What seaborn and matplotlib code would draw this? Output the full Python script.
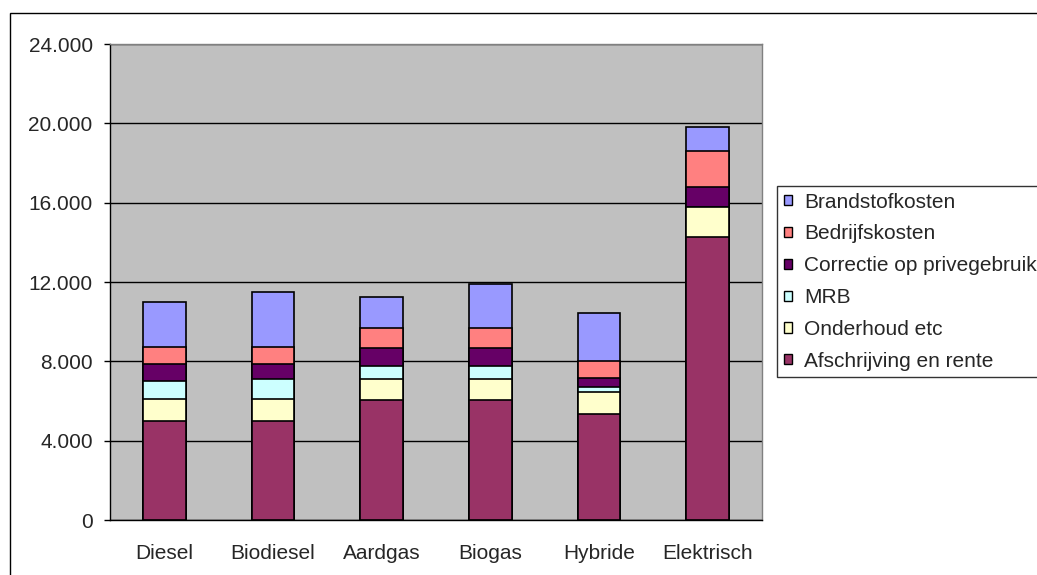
"""Stacked yearly cost per fuel type, Excel-style bar chart."""
import matplotlib
matplotlib.use("Agg")
import matplotlib.pyplot as plt
import numpy as np
import pandas as pd
import seaborn as sns
from matplotlib.patches import Patch, Rectangle
from matplotlib.ticker import FuncFormatter

FUELS = ["Diesel", "Biodiesel", "Aardgas", "Biogas", "Hybride", "Elektrisch"]

# bottom to top
COMPONENTS = ["Afschrijving en rente", "Onderhoud etc", "MRB", "Correctie op privegebruik", "Bedrijfskosten", "Brandstofkosten"]
afschrijving = [5000, 5000, 6030, 6030, 5360, 14270]
onderhoud = [1100, 1100, 1080, 1080, 1070, 1530]
mrb = [930, 1000, 660, 660, 270, 0]
correctie = [830, 760, 890, 890, 480, 1010]
bedrijfskosten = [870, 870, 1010, 1010, 820, 1820]
brandstof = [2280, 2760, 1580, 2240, 2430, 1160]

COLORS = ["#993366", "#FFFFCC", "#CCFFFF", "#660066", "#FF8080", "#9999FF"]
Y_TICKS = [0, 4000, 8000, 12000, 16000, 20000, 24000]


def build_frame():
    df = pd.DataFrame(
        [afschrijving, onderhoud, mrb, correctie, bedrijfskosten, brandstof],
        index=COMPONENTS, columns=FUELS,
    ).T
    cum = df.cumsum(axis=1)
    cum.index.name = "fuel"
    return cum.reset_index()


def main():
    sns.set_style("white")
    plt.rcParams["font.family"] = ["Liberation Sans", "DejaVu Sans"]
    cum = build_frame()

    fig = plt.figure(figsize=(10.37, 5.75), dpi=100)
    ax = fig.add_axes([110 / 1037, 55 / 575, 652 / 1037, 476 / 575])
    ax.set_facecolor("#C0C0C0")
    ax.set_axisbelow(True)
    ax.yaxis.grid(True, color="black", linewidth=1)

    # tallest cumulative first, each lower level drawn over it
    for comp, color in reversed(list(zip(COMPONENTS, COLORS))):
        sns.barplot(data=cum, x="fuel", y=comp, order=FUELS, color=color, width=0.39,
                    edgecolor="black", linewidth=1.2, saturation=1, errorbar=None, ax=ax)

    ax.set_ylim(0, 24000)
    ax.set_xlim(-0.5, 5.5)
    ax.set_yticks(Y_TICKS)
    ax.yaxis.set_major_formatter(FuncFormatter(lambda v, _: f"{int(v):,}".replace(",", ".")))
    ax.set_xticks(np.arange(-0.5, 6), minor=True)
    ax.tick_params(axis="x", which="major", length=0, pad=17, labelsize=15)
    ax.tick_params(axis="x", which="minor", length=5, width=1, color="black", direction="out")
    ax.tick_params(axis="y", length=4.5, width=1, color="black", direction="out", pad=8, labelsize=15)
    ax.tick_params(left=True, bottom=True)
    ax.set_xlabel("")
    ax.set_ylabel("")
    for side in ("left", "bottom"):
        ax.spines[side].set_color("black")
        ax.spines[side].set_linewidth(1)
    for side in ("top", "right"):
        ax.spines[side].set_color("#808080")
        ax.spines[side].set_linewidth(1)

    handles = [Patch(facecolor=c, edgecolor="black", linewidth=1) for c in COLORS]
    leg = fig.legend(handles[::-1], COMPONENTS[::-1], loc="upper left",
                     bbox_to_anchor=(777 / 1037, 1 - 186 / 575), borderaxespad=0,
                     fontsize=15, frameon=True, fancybox=False, handlelength=0.38,
                     handleheight=0.38, handletextpad=0.6, labelspacing=0.615,
                     borderpad=0.32)
    leg.get_frame().set_edgecolor("black")
    leg.get_frame().set_linewidth(1)

    fig.add_artist(Rectangle((10 / 1037, -0.1), 1.2, 1.1 - 13 / 575, transform=fig.transFigure,
                             fill=False, edgecolor="black", linewidth=1, clip_on=False))
    fig.savefig("out.png", dpi=100)
    plt.close(fig)


if __name__ == "__main__":
    main()
